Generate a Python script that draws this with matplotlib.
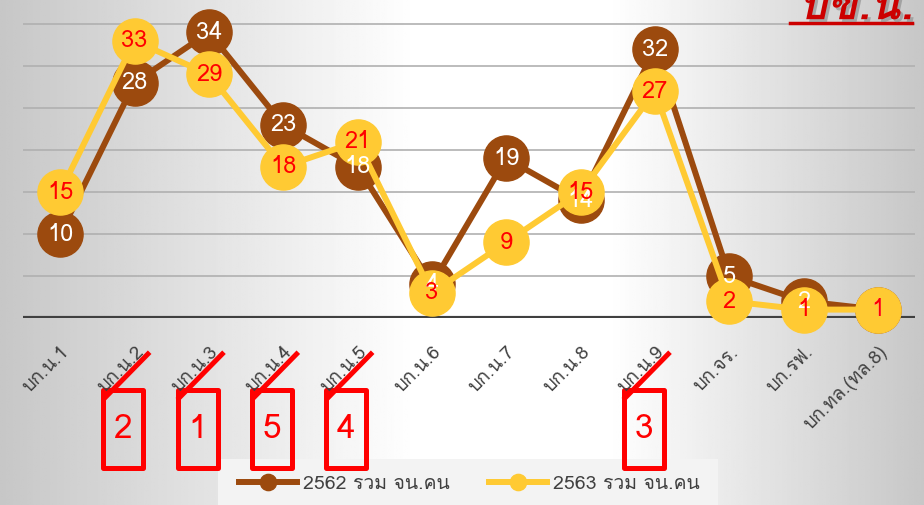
import numpy as np
import matplotlib
matplotlib.use("Agg")
import matplotlib.pyplot as plt
import matplotlib.patheffects as pe
from matplotlib import font_manager
from matplotlib.ft2font import FT2Font
from matplotlib.patches import Rectangle
from matplotlib.lines import Line2D
from matplotlib.transforms import blended_transform_factory

categories = ["บก.น.1", "บก.น.2", "บก.น.3", "บก.น.4", "บก.น.5", "บก.น.6",
              "บก.น.7", "บก.น.8", "บก.น.9", "บก.จร.", "บก.รฟ.", "บก.ทล.(ทล.8)"]
y2562 = [10, 28, 34, 23, 18, 4, 19, 14, 32, 5, 2, 1]
y2563 = [15, 33, 29, 18, 21, 3, 9, 15, 27, 2, 1, 1]
label2562 = "2562 รวม จน.คน"
label2563 = "2563 รวม จน.คน"
title = "บข.น."
# hand-written ranking marks under some units: category index -> rank
rank_idx = [1, 2, 3, 4, 8]
rank_num = [2, 1, 5, 4, 3]

BROWN = "#9C4A0E"
YELLOW = "#FFCA33"
RED = "#FF0000"


def thai_font():
    for f in font_manager.fontManager.ttflist:
        try:
            if ord("บ") in FT2Font(f.fname).get_charmap():
                return f.name
        except Exception:
            pass
    return "DejaVu Sans"


plt.rcParams["font.family"] = [thai_font(), "DejaVu Sans"]

fig = plt.figure(figsize=(9.24, 5.05), dpi=100)

# background gradient (grey at both sides, white in the middle)
bg = fig.add_axes([0, 0, 1, 1], zorder=-10)
t = np.linspace(0, 1, 400)
prof = np.interp(t, [0, 0.45, 0.66, 1], [0.78, 1.0, 1.0, 0.78])
bg.imshow(np.tile(prof, (2, 1)), cmap="gray", vmin=0, vmax=1,
          aspect="auto", extent=[0, 1, 0, 1])
bg.add_patch(Rectangle((0.236, 0.0), 0.541, 0.091, color="#f3f3f3", lw=0))
bg.set_xlim(0, 1)
bg.set_ylim(0, 1)
bg.axis("off")

ax = fig.add_axes([0.0249, 0.3703, 0.9654, 0.6297])
ax.patch.set_alpha(0)
x = np.arange(len(categories))
ax.set_xlim(-0.5, len(categories) - 0.5)
ax.set_ylim(0, 37.86)

for g in range(5, 40, 5):
    ax.axhline(g, color="#b0b0b0", lw=1.2, zorder=1)
ax.axhline(0, color="#404040", lw=3, zorder=2)

ax.plot(x, y2562, color=BROWN, lw=4.3, marker="o", ms=32.5, zorder=3,
        clip_on=False, label=label2562)
ax.plot(x, y2563, color=YELLOW, lw=4.3, marker="o", ms=32.5, zorder=4,
        clip_on=False, label=label2563)

for xi, v in zip(x, y2562):
    ax.text(xi, v, str(v), color="white", fontsize=17, ha="center",
            va="center", zorder=5)
for xi, v in zip(x, y2563):
    ax.text(xi, v, str(v), color=RED, fontsize=17, ha="center",
            va="center", zorder=6)

for s in ax.spines.values():
    s.set_visible(False)
ax.set_yticks([])
ax.set_xticks(x)
ax.set_xticklabels(categories, rotation=45, ha="right",
                   rotation_mode="anchor", fontsize=13.5, color="#404040")
ax.tick_params(axis="x", length=0, pad=18)

# ranking annotations
tr = blended_transform_factory(ax.transData, fig.transFigure)
for i, n in zip(rank_idx, rank_num):
    ax.add_patch(Rectangle((i - 0.42, 0.073), 0.54, 0.154, transform=tr,
                           fill=False, ec=RED, lw=3.6, joinstyle="round",
                           clip_on=False))
    ax.add_line(Line2D([i - 0.4, i + 0.18], [0.212, 0.299], transform=tr,
                       color=RED, lw=3.6, clip_on=False))
    ax.text(i - 0.15, 0.150, str(n), transform=tr, color=RED, fontsize=24,
            ha="center", va="center")

leg = ax.legend(loc="center", bbox_to_anchor=(0.508, 0.042),
                bbox_transform=fig.transFigure, ncol=2, frameon=False,
                fontsize=14, markerscale=0.36, handlelength=3,
                handletextpad=0.3, columnspacing=2.0, labelcolor="#404040")

# title in the top right corner
fig.text(0.988, 0.962, title, color="#CC0000", fontsize=32,
         fontweight="bold", style="italic", ha="right", va="baseline",
         path_effects=[pe.withSimplePatchShadow(offset=(2, -2),
                                                shadow_rgbFace="#888888",
                                                alpha=0.6)])
fig.add_artist(Line2D([0.855, 0.987], [0.955, 0.955], color="#CC0000",
                      lw=2.5, transform=fig.transFigure,
                      path_effects=[pe.withSimplePatchShadow(
                          offset=(1.5, -1.5), alpha=0.5)]))

fig.savefig("out.png", dpi=100)
